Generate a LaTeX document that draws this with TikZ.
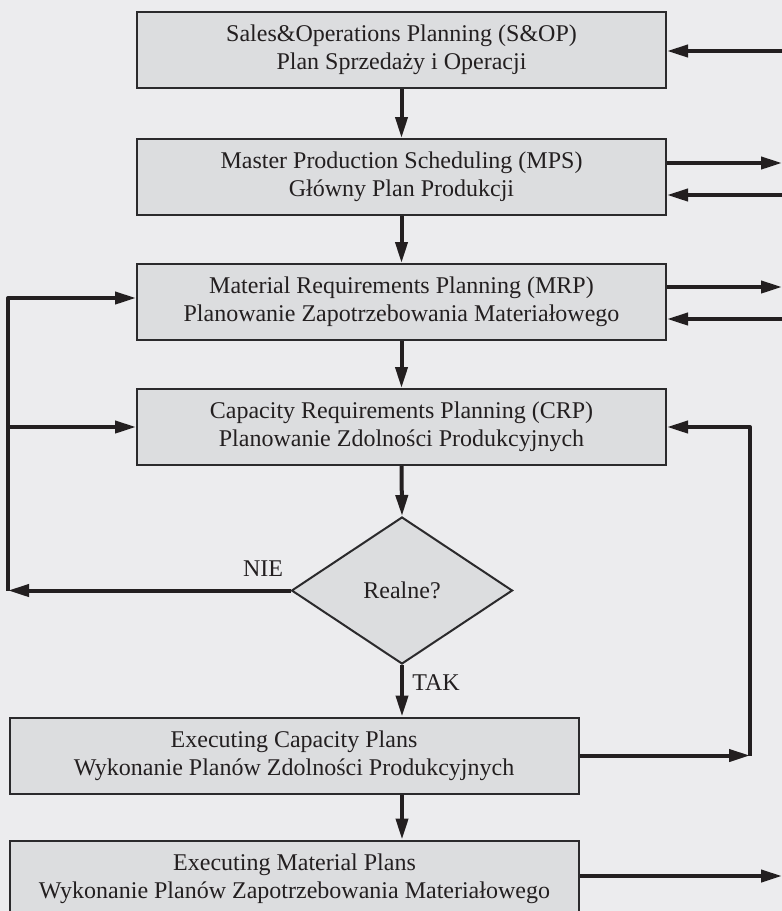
\documentclass[tikz,border=0pt]{standalone}
\usepackage{fontspec}
\setmainfont{Liberation Serif}
\usetikzlibrary{arrows.meta,shapes.geometric}
\definecolor{bg}{HTML}{ECECEE}
\definecolor{boxfill}{HTML}{DCDDDF}
\definecolor{edge}{HTML}{2B2A2C}
\definecolor{ink}{HTML}{231F20}
\begin{document}
\begin{tikzpicture}[x=1pt,y=-1pt,
  txt/.style={text=ink,font=\fontsize{24}{28}\selectfont},
  box/.style={txt,draw=edge,fill=boxfill,line width=2pt,inner sep=0pt,align=center,minimum height=76pt},
  wide/.style={box,minimum width=529pt},
  exec/.style={box,minimum width=569pt},
  decision/.style={txt,diamond,draw=edge,fill=boxfill,line width=2pt,inner sep=0pt,minimum width=221pt,minimum height=147pt},
  link/.style={draw=ink,line width=4pt,line join=round},
  conn/.style={link,-{Triangle[length=21pt,width=12pt]}}]
\fill[bg] (0,0) rectangle (782,911);
\useasboundingbox (0,0) rectangle (782,911);

% planning chain
\node[wide] (sop) at (401.5,50) {Sales\&Operations Planning (S\&OP)\\Plan Sprzedaży i Operacji};
\node[wide] (mps) at (401.5,177) {Master Production Scheduling (MPS)\\Główny Plan Produkcji};
\node[wide] (mrp) at (401.5,302) {Material Requirements Planning (MRP)\\Planowanie Zapotrzebowania Materiałowego};
\node[wide] (crp) at (401.5,427) {Capacity Requirements Planning (CRP)\\Planowanie Zdolności Produkcyjnych};
\node[decision] (real) at (402,590.5) {Realne?};
\node[exec] (ecp) at (294,755.5) {Executing Capacity Plans\\Wykonanie Planów Zdolności Produkcyjnych};
\node[exec] (emp) at (294.5,878.5) {Executing Material Plans\\Wykonanie Planów Zapotrzebowania Materiałowego};

% decision labels
\node[txt] (nie) at (263,569) {NIE};
\node[txt] (tak) at (436,683) {TAK};

% main flow
\draw[conn] (sop.south) -- (mps.north);
\draw[conn] (mps.south) -- (mrp.north);
\draw[conn] (mrp.south) -- (crp.north);
\draw[conn] (crp.south) -- (real.north);
\draw[conn] (real.south) -- (real.south |- ecp.north);
\draw[conn] (real.south |- ecp.south) -- (real.south |- emp.north);

% links to the right margin
\coordinate (in1) at (782,51);
\coordinate (out2) at (782,163);
\coordinate (in2) at (782,195);
\coordinate (out3) at (782,287);
\coordinate (in3) at (782,319);
\coordinate (out6) at (782,876);
\draw[conn] (in1) -- (in1 -| sop.east);
\draw[conn] (out2 -| mps.east) -- (out2);
\draw[conn] (in2) -- (in2 -| mps.east);
\draw[conn] (out3 -| mrp.east) -- (out3);
\draw[conn] (in3) -- (in3 -| mrp.east);
\draw[conn] (out6 -| emp.east) -- (out6);

% feedback from capacity execution to CRP
\coordinate (rtop) at (750,427);
\draw[conn] (ecp.east) -- (ecp.east -| rtop);
\draw[conn] (ecp.east -| rtop) -- (rtop) -- (crp.east);

% NIE branch back to MRP and CRP
\coordinate (ltop) at (8,298);
\draw[conn] (real.west) -- (real.west -| ltop);
\draw[conn] (real.west -| ltop) -- (ltop) -- (ltop -| mrp.west);
\draw[conn] (crp.west -| ltop) -- (crp.west);
\end{tikzpicture}
\end{document}
